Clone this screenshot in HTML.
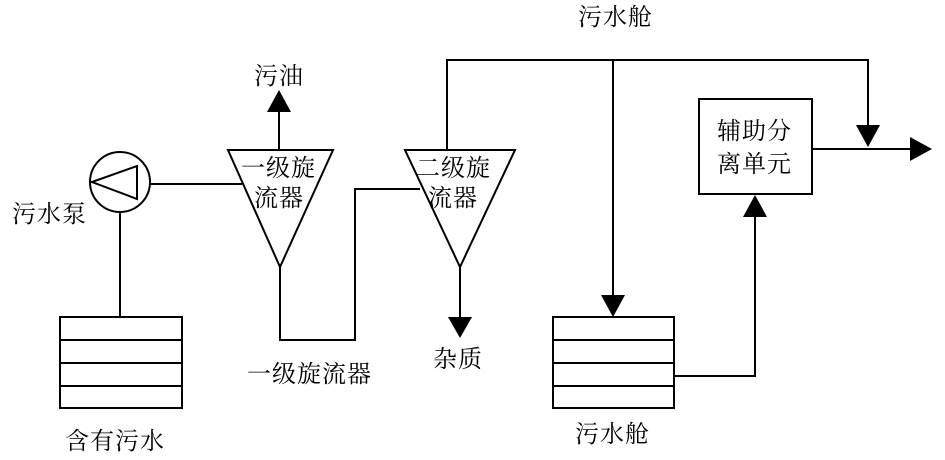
<!DOCTYPE html>
<html><head><meta charset="utf-8"><style>
html,body{margin:0;padding:0;background:#fff;}
svg text{font-family:"Liberation Serif","Noto Serif CJK SC",serif;font-size:24px;letter-spacing:1px;fill:#000;}
</style></head><body>
<svg width="945" height="455" viewBox="0 0 945 455" xmlns="http://www.w3.org/2000/svg">
<g fill="none" stroke="#000" stroke-width="2">
<circle cx="120" cy="182" r="30"/>
<polygon points="92,182 137,166 137,199"/>
<line x1="150" y1="184" x2="242" y2="184"/>
<polygon points="228,150 333,150 280,267"/>
<line x1="279" y1="150" x2="279" y2="110"/>
<line x1="120" y1="212" x2="120" y2="317"/>
<rect x="60" y="317" width="122" height="91"/>
<line x1="60" y1="340" x2="182" y2="340"/>
<line x1="60" y1="363" x2="182" y2="363"/>
<line x1="60" y1="386" x2="182" y2="386"/>
<polyline points="280,267 280,340 355,340 355,189 420,189"/>
<polygon points="405,150 515,150 460,267"/>
<line x1="460" y1="267" x2="460" y2="320"/>
<polyline points="447,150 447,60 868,60 868,127"/>
<line x1="613" y1="60" x2="613" y2="297"/>
<rect x="553" y="317" width="121" height="91"/>
<line x1="553" y1="340" x2="674" y2="340"/>
<line x1="553" y1="363" x2="674" y2="363"/>
<line x1="553" y1="386" x2="674" y2="386"/>
<polyline points="674,376 755,376 755,215"/>
<rect x="699" y="99" width="113" height="95"/>
<line x1="812" y1="149" x2="912" y2="149"/>
</g>
<g fill="#000">
<polygon points="279,90 267,112 291,112"/>
<polygon points="460,338 448,317 472,317"/>
<polygon points="613,317 601,295 625,295"/>
<polygon points="755,195 743,217 767,217"/>
<polygon points="868,147 856,125 880,125"/>
<polygon points="932,149 910,137 910,161"/>
</g>
<text x="254" y="84">污油</text>
<text x="241" y="176">一级旋</text>
<text x="254" y="206">流器</text>
<text x="416" y="176">二级旋</text>
<text x="428" y="206">流器</text>
<text x="12" y="222">污水泵</text>
<text x="65" y="449">含有污水</text>
<text x="247" y="382">一级旋流器</text>
<text x="433" y="367">杂质</text>
<text x="578" y="25">污水舱</text>
<text x="575" y="442">污水舱</text>
<text x="717" y="139">辅助分</text>
<text x="717" y="172">离单元</text>
</svg>
</body></html>
